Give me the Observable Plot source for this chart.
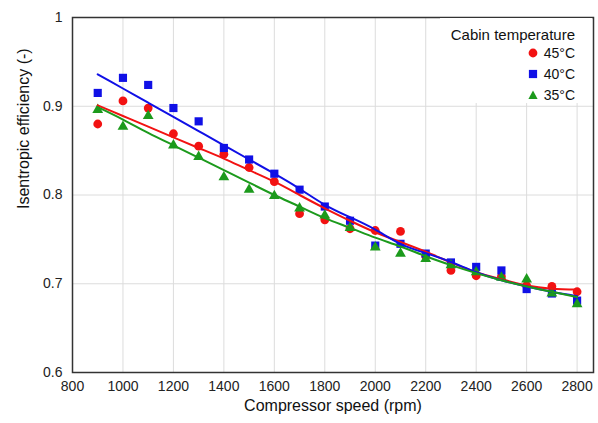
<!DOCTYPE html>
<html><head><meta charset="utf-8">
<script src="https://cdn.jsdelivr.net/npm/d3@7"></script>
<script src="https://cdn.jsdelivr.net/npm/@observablehq/plot@0.6"></script>
<style>
body{margin:0;background:#fff;font-family:"Liberation Sans",Arial,sans-serif;}
#wrap{position:relative;width:598px;height:423px;}
#legend{position:absolute;left:440px;top:18px;width:152px;height:85px;background:#fff;color:#111;}
#legend .t{position:absolute;right:17px;top:9px;font-size:15px;line-height:16px;white-space:nowrap;}
#legend .r{position:absolute;right:17px;font-size:14px;line-height:16px;display:flex;align-items:center;white-space:nowrap;}
#legend .r svg{margin-right:6px;}
</style>
</head><body>
<div id="wrap"></div>
<script>
const speed = [900,1000,1100,1200,1300,1400,1500,1600,1700,1800,1900,2000,2100,2200,2300,2400,2500,2600,2700,2800];
const eff45 = [0.880,0.906,0.898,0.869,0.855,0.846,0.831,0.815,0.779,0.772,0.762,0.760,0.759,0.731,0.715,0.709,0.708,0.698,0.697,0.691];
const eff40 = [0.915,0.932,0.924,0.898,0.883,0.853,0.840,0.824,0.806,0.787,0.771,0.743,0.745,0.734,0.724,0.719,0.715,0.694,0.689,0.681];
const eff35 = [0.896,0.877,0.889,0.856,0.843,0.820,0.806,0.799,0.785,0.777,0.763,0.741,0.734,0.728,0.721,0.713,0.707,0.705,0.689,0.677];
const fit45 = [0.901,0.889,0.877,0.865,0.853,0.841,0.828,0.815,0.800,0.785,0.771,0.758,0.747,0.736,0.724,0.713,0.705,0.698,0.6945,0.6935];
const fit40 = [0.936,0.920,0.904,0.888,0.872,0.856,0.840,0.824,0.807,0.789,0.775,0.761,0.745,0.7345,0.7245,0.713,0.704,0.697,0.691,0.686];
const fit35 = [0.899,0.885,0.870,0.856,0.842,0.828,0.814,0.800,0.787,0.774,0.763,0.752,0.742,0.731,0.721,0.712,0.704,0.697,0.691,0.685];
const seriesNames = ["45°C","40°C","35°C"];
const colors = ["#f21212","#1010e6","#1c9a1c"];
const xTicks = [800,1000,1200,1400,1600,1800,2000,2200,2400,2600,2800];
const yTicks = [0.6,0.7,0.8,0.9,1];
const xTitle = "Compressor speed (rpm)";
const yTitle = "Isentropic efficiency (-)";
const legendTitle = "Cabin temperature";

const pts = (arr) => speed.map((s,i)=>({speed:s, eff:arr[i]}));

const chart = Plot.plot({
  width:598, height:423,
  marginLeft:72, marginRight:5, marginTop:17, marginBottom:51,
  style:{fontFamily:"'Liberation Sans', Arial, sans-serif", fontSize:"14px", color:"#222", background:"#fff"},
  x:{domain:[800,2865], ticks:xTicks, tickFormat:d=>String(d), tickSize:0, tickPadding:9, label:null},
  y:{domain:[0.6,1], ticks:yTicks, tickFormat:d=>String(d), tickSize:0, tickPadding:10, label:null},
  marks:[
    Plot.gridX(xTicks,{stroke:"#dcdcdc", strokeOpacity:1}),
    Plot.gridY(yTicks,{stroke:"#dcdcdc", strokeOpacity:1}),
    Plot.dot(pts(eff45),{x:"speed", y:"eff", symbol:"circle", r:4.4, fill:colors[0], stroke:"none"}),
    Plot.dot(pts(eff40),{x:"speed", y:"eff", symbol:"square", r:4.6, fill:colors[1], stroke:"none"}),
    Plot.dot(pts(eff35),{x:"speed", y:"eff", symbol:"triangle", r:4.0, fill:colors[2], stroke:"none"}),
    Plot.line(pts(fit45),{x:"speed", y:"eff", stroke:colors[0], strokeWidth:2, curve:"natural"}),
    Plot.line(pts(fit40),{x:"speed", y:"eff", stroke:colors[1], strokeWidth:2, curve:"natural"}),
    Plot.line(pts(fit35),{x:"speed", y:"eff", stroke:colors[2], strokeWidth:2, curve:"natural"}),
    Plot.frame({stroke:"#333", strokeWidth:1.5}),
    Plot.text([xTitle],{frameAnchor:"bottom", dy:38, fontSize:16, fill:"#111"}),
    Plot.text([yTitle],{frameAnchor:"left", rotate:-90, dx:-49, dy:14, fontSize:16, fill:"#111"})
  ]
});
const wrap = document.getElementById("wrap");
wrap.appendChild(chart);

// legend overlay
const leg = document.createElement("div");
leg.id = "legend";
const t = document.createElement("div");
t.className = "t"; t.textContent = legendTitle; leg.appendChild(t);
const shapes = [
  '<circle cx="5" cy="5" r="4.4" fill="'+colors[0]+'"/>',
  '<rect x="0.9" y="0.9" width="8.2" height="8.2" fill="'+colors[1]+'"/>',
  '<path d="M5,0.6 L9.6,9 L0.4,9 Z" fill="'+colors[2]+'"/>'
];
seriesNames.forEach((name,i)=>{
  const r = document.createElement("div");
  r.className = "r";
  r.style.top = (27 + i*21) + "px";
  r.innerHTML = '<svg width="10" height="10" viewBox="0 0 10 10">'+shapes[i]+'</svg><span>'+name+'</span>';
  leg.appendChild(r);
});
wrap.appendChild(leg);
</script>
</body></html>
